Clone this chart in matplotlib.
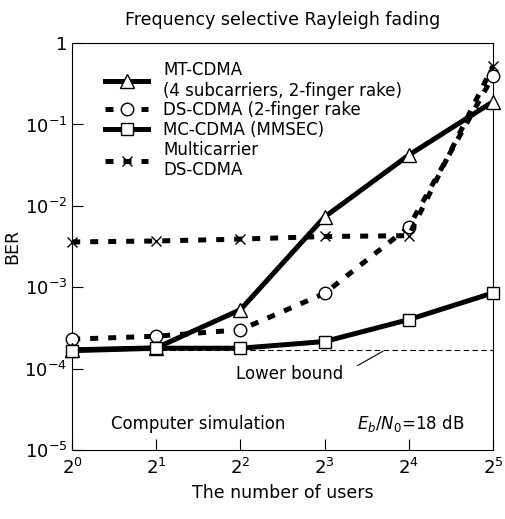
import math
import matplotlib
matplotlib.use("Agg")
import matplotlib.pyplot as plt
from matplotlib.lines import Line2D
from matplotlib.ticker import FixedLocator, FuncFormatter, NullLocator

# Données
users = [1, 2, 4, 8, 16, 32]
ber_mt_cdma = [1.7e-4, 1.8e-4, 5.3e-4, 7.3e-3, 4.2e-2, 1.9e-1]
ber_ds_cdma = [2.3e-4, 2.5e-4, 3.0e-4, 8.4e-4, 5.5e-3, 3.9e-1]
ber_mc_cdma = [1.66e-4, 1.78e-4, 1.78e-4, 2.15e-4, 4.0e-4, 8.5e-4]
ber_mc_ds_cdma = [3.6e-3, 3.7e-3, 3.9e-3, 4.2e-3, 4.3e-3, 5.2e-1]
lower_bound = 1.7e-4

labels = ["MT-CDMA\n(4 subcarriers, 2-finger rake)",
          "DS-CDMA (2-finger rake",
          "MC-CDMA (MMSEC)",
          "Multicarrier\nDS-CDMA"]

plt.rcParams['font.family'] = ['DejaVu Sans']
plt.rcParams['mathtext.fontset'] = 'dejavusans'

fig = plt.figure(figsize=(5.05, 5.19), dpi=100)
ax = fig.add_axes([0.143, 0.133, 0.833, 0.784])

dash = (0, (1.6, 2.0))
style = dict(color='black', lw=3.6, mfc='white', mec='black', mew=1.0, clip_on=False)
ax.plot(users, ber_mt_cdma, marker='^', ms=10, zorder=4, **style)
ax.plot(users, ber_ds_cdma, ls=dash, marker='o', ms=9, zorder=3, **style)
ax.plot(users, ber_mc_cdma, marker='s', ms=9, zorder=5, **style)
ax.plot(users, ber_mc_ds_cdma, ls=dash, marker='x', ms=7, zorder=3, **style)

# borne inférieure
ax.hlines(lower_bound, 1, 32, colors='black', linestyles=(0, (5, 3)), lw=0.8, zorder=1)
ax.annotate("", xy=(13.2, lower_bound), xytext=(10.3, 1.05e-4),
            arrowprops=dict(arrowstyle='-', lw=0.8, color='black'))
ax.text(6.0, 8.6e-5, "Lower bound", ha='center', va='center', fontsize=12)

ax.text(2.82, 2.1e-5, "Computer simulation", ha='center', va='center', fontsize=12)
ax.text(16.2, 2.1e-5, "$E_b/N_0$=18 dB", ha='center', va='center', fontsize=12)

ax.set_xscale('log', base=2)
ax.set_yscale('log')
ax.set_xlim(1, 32)
ax.set_ylim(1e-5, 1)

ax.xaxis.set_major_locator(FixedLocator(users))
ax.xaxis.set_major_formatter(FuncFormatter(lambda v, p: "$2^{%d}$" % round(math.log2(v))))
ax.xaxis.set_minor_locator(NullLocator())
yt = [1e-5, 1e-4, 1e-3, 1e-2, 1e-1, 1]
ax.yaxis.set_major_locator(FixedLocator(yt))
ax.yaxis.set_major_formatter(FuncFormatter(
    lambda v, p: "1" if v >= 1 else "$10^{%d}$" % round(math.log10(v))))
ax.yaxis.set_minor_locator(NullLocator())

ax.tick_params(axis='both', direction='in', length=8, width=0.8, labelsize=13)
ax.tick_params(axis='x', pad=6)
ax.set_xlabel("The number of users", fontsize=12.5, labelpad=4)
ax.set_ylabel("BER", fontsize=12.5, labelpad=2)
ax.set_title("Frequency selective Rayleigh fading", fontsize=12.5, pad=13)

for s in ax.spines.values():
    s.set_linewidth(0.8)

handles = [
    Line2D([], [], color='black', lw=3.6, marker='^', ms=10, mfc='white', mec='black'),
    Line2D([], [], color='black', lw=3.6, ls=dash, marker='o', ms=9, mfc='white', mec='black'),
    Line2D([], [], color='black', lw=3.6, marker='s', ms=9, mfc='white', mec='black'),
    Line2D([], [], color='black', lw=3.6, ls=dash, marker='x', ms=7, mfc='white', mec='black'),
]
ax.legend(handles, labels, loc='upper left', bbox_to_anchor=(0.05, 0.985),
          frameon=False, fontsize=12, handlelength=2.6, handletextpad=0.9,
          labelspacing=0.1, borderpad=0.2)

fig.savefig("out.png", dpi=100)
